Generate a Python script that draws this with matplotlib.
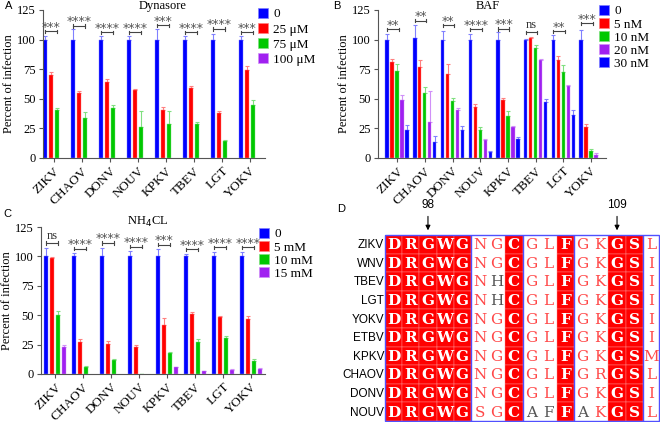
import numpy as np
import matplotlib
matplotlib.use("Agg")
import matplotlib.pyplot as plt
from matplotlib.patches import Patch, Rectangle

plt.rcParams['font.family'] = ['Liberation Serif', 'DejaVu Serif']

viruses = ['ZIKV', 'CHAOV', 'DONV', 'NOUV', 'KPKV', 'TBEV', 'LGT', 'YOKV']
nan = np.nan

# Panel A: Dynasore (mean, upper error end)
dyn_labels = ['0', '25 μM', '75 μM', '100 μM']
dyn_mean = [
    [100, 100, 100, 100, 100, 100, 100, 100],
    [70, 54.5, 64.3, 57.3, 40.3, 59, 38, 74.7],
    [40.3, 33.5, 42.5, 26, 29, 29, 14, 44.8],
    [nan] * 8,
]
dyn_top = [
    [103, 109, 103, 103, 109, 103, 105, 103],
    [73, 57, 66.8, 58.6, 43.4, 60.6, 40, 77.5],
    [42.5, 38.6, 44.5, 40, 40, 30.4, 15, 49],
    [nan] * 8,
]
dyn_sig = ['***', '****', '****', '****', '***', '****', '****', '***']
dyn_sig_y = [107, 111.5, 106, 106, 112, 106, 109, 106]

# Panel B: BAF
baf_labels = ['0', '5 nM', '10 nM', '20 nM', '30 nM']
baf_mean = [
    [100, 101.7, 100, 100, 100, 100, 100, 100],
    [81.4, 76.6, 70.7, 43.4, 49, 101.7, 82.8, 26],
    [73.2, 55.2, 48.2, 23.4, 35.8, 93.2, 72.7, 6],
    [49.3, 30.1, 40.3, 15, 26, 82.8, 61.1, 2.5],
    [24, 13.5, 23.7, 4.8, 15.8, 47.3, 36, nan],
]
baf_top = [
    [105, 112, 107, 105, 106, 100.5, 103.5, 108],
    [84, 82.5, 79, 45.6, 50.7, 102, 86, 29],
    [79, 60, 51, 26, 39.7, 95.5, 78.3, 7.3],
    [53, 56.3, 42.5, 15.8, 27.3, 84, 62, 4],
    [27.6, 19, 27.3, 5.6, 17.5, 49.6, 40.3, nan],
]
baf_sig = ['**', '**', '**', '****', '***', 'ns', '**', '***']
baf_sig_y = [108.6, 116, 112, 108.6, 109, 106, 107, 113.7]

# Panel C: NH4CL
nh4_labels = ['0', '5 mM', '10 mM', '15 mM']
nh4_mean = [
    [100, 100, 100, 100, 100, 100, 100, 100],
    [98.3, 26.8, 25.7, 23.2, 41.8, 51.1, 48.3, 46.6],
    [50.3, 5.6, 11.9, 0.3, 18, 27.4, 30.5, 10.7],
    [22.6, nan, nan, nan, 5.6, 2.3, 3.4, 4.2],
]
nh4_top = [
    [107.3, 102.5, 107.5, 105, 106, 101.7, 103.4, 103.7],
    [99.4, 29.7, 28.2, 24.6, 47.5, 53, 49.2, 49.4],
    [53.7, 6.8, 12.7, nan, 19, 29.4, 32.5, 12.4],
    [24.9, nan, nan, nan, 6, 2.8, 4, 4.8],
]
nh4_sig = ['ns', '****', '****', '****', '***', '****', '****', '****']
nh4_sig_y = [111.4, 106.6, 111.4, 108.3, 110, 106, 107.7, 107.7]

# Panel D: alignment
aln_names = ['ZIKV', 'WNV', 'TBEV', 'LGT', 'YOKV', 'ETBV', 'KPKV', 'CHAOV', 'DONV', 'NOUV']
aln_seqs = ['DRGWGNGCGLFGKGSL', 'DRGWGNGCGLFGKGSI', 'DRGWGNHCGLFGKGSI',
            'DRGWGNHCGLFGKGSI', 'DRGWGNGCGLFGKGSI', 'DRGWGNGCGLFGKGSI',
            'DRGWGNGCGLFGKGSM', 'DRGWGNGCGLFGRGSL', 'DRGWGNGCGLFGKGSI',
            'DRGWGSGCAFFAKGSL']
conserved_cols = [0, 1, 2, 3, 4, 7, 10, 13, 14]
gray_cells = [(2, 6), (3, 6), (9, 8), (9, 9), (9, 11)]
block_edges = [5, 8, 11, 15]
start_pos = 96
marked_pos = [98, 109]

bar_colors = ['#0000ff', '#ff0000', '#00c800', '#a020f0', '#0000ff']
err_colors = ['#8080ff', '#ff8080', '#80e080', '#d090f8', '#8080ff']

fig = plt.figure(figsize=(6.6, 4.22), dpi=100)
W, H = 660.0, 422.0


def px_axes(l, t, r, b):
    return fig.add_axes([l / W, 1 - b / H, (r - l) / W, (b - t) / H])


def bar_panel(ax, means, tops, labels, sig, sig_y, pitch, width, xlim,
              title, title_xy, leg_xy, leg_space):
    n = len(means)
    x = np.arange(len(viruses))
    offs = (np.arange(n) - (n - 1) / 2) * pitch
    for i in range(n):
        m = np.array(means[i], dtype=float)
        t = np.array(tops[i], dtype=float)
        ax.bar(x + offs[i], m, width, color=bar_colors[i], edgecolor=err_colors[i],
               linewidth=0.3, zorder=2)
        ok = ~np.isnan(t)
        ax.errorbar(x[ok] + offs[i], m[ok], yerr=[np.zeros(ok.sum()), t[ok] - m[ok]],
                    fmt='none', ecolor=err_colors[i], elinewidth=0.8, capsize=1.3,
                    capthick=0.8, zorder=1)
    for j in range(len(viruses)):
        x0 = x[j] + offs[0]
        x1 = x[j] + offs[2] + (pitch * 0.3 if n == 5 else 0)
        y = sig_y[j]
        ax.plot([x0, x1], [y, y], color='#444444', lw=0.8, clip_on=False)
        ax.plot([x0, x0], [y - 1.5, y + 1.5], color='#444444', lw=0.8, clip_on=False)
        ax.plot([x1, x1], [y - 1.5, y + 1.5], color='#444444', lw=0.8, clip_on=False)
        if sig[j] == 'ns':
            ax.text((x0 + x1) / 2, y + 1.2, sig[j], ha='center', va='bottom',
                    fontsize=9, color='#333333')
        else:
            ax.text((x0 + x1) / 2, y - 2.0, sig[j], ha='center', va='bottom',
                    fontsize=9, color='#555555', family=['DejaVu Sans'])
    ax.set_xlim(*xlim)
    ax.set_ylim(0, 125)
    ax.set_yticks([0, 25, 50, 75, 100, 125])
    ax.set_xticks(x)
    ax.set_xticklabels(viruses, rotation=45, ha='right', rotation_mode='anchor',
                       fontsize=9.5)
    ax.tick_params(axis='y', labelsize=9, length=3, width=0.8, color='#555555', pad=2)
    ax.tick_params(axis='x', length=3, width=0.8, color='#555555', pad=2)
    for s in ['top', 'right']:
        ax.spines[s].set_visible(False)
    for s in ['left', 'bottom']:
        ax.spines[s].set_color('#555555')
        ax.spines[s].set_linewidth(0.8)
    ax.set_ylabel('Percent of infection', fontsize=9, labelpad=2)
    fig.text(title_xy[0] / W, 1 - title_xy[1] / H, title, ha='center', va='center',
             fontsize=9)
    handles = [Patch(facecolor=bar_colors[i], edgecolor=err_colors[i], linewidth=0.5)
               for i in range(n)]
    ax.legend(handles, labels, loc='upper left',
              bbox_to_anchor=(leg_xy[0] / W, 1 - leg_xy[1] / H),
              bbox_transform=fig.transFigure, frameon=False, fontsize=9.5,
              handlelength=0.75, handleheight=0.75, handletextpad=0.4,
              labelspacing=leg_space, borderpad=0, borderaxespad=0)


axA = px_axes(43, 10, 265, 158)
bar_panel(axA, dyn_mean, dyn_top, dyn_labels, dyn_sig, dyn_sig_y, 0.21, 0.15,
          (-0.39, 7.54), 'Dynasore', (163, 6), (258, 8), 0.2)

axB = px_axes(378, 10, 606, 158)
bar_panel(axB, baf_mean, baf_top, baf_labels, baf_sig, baf_sig_y, 0.18, 0.12,
          (-0.69, 7.54), 'BAF', (488, 6), (599, 5), 0.05)

axC = px_axes(41, 227, 265, 374)
bar_panel(axC, nh4_mean, nh4_top, nh4_labels, nh4_sig, nh4_sig_y, 0.21, 0.15,
          (-0.5, 7.5), 'NH$_4$CL', (148, 222), (259, 228), 0.05)

# panel letters
for letter, (lx, ly) in zip('ABCD', [(5, 6), (333, 6), (3, 214), (337, 209)]):
    fig.text(lx / W, 1 - ly / H, letter, ha='left', va='center', fontsize=8,
             family=['Liberation Sans'])

# Panel D
axD = px_axes(385, 235, 660, 421)
ncol = len(aln_seqs[0])
nrow = len(aln_seqs)
axD.set_xlim(0, ncol)
axD.set_ylim(nrow, 0)
axD.axis('off')
for r, seq in enumerate(aln_seqs):
    for c, ch in enumerate(seq):
        if c in conserved_cols:
            axD.add_patch(Rectangle((c, r), 1, 1, facecolor='#ff0000',
                                    edgecolor='#ff9090', linewidth=0.3))
            axD.text(c + 0.5, r + 0.55, ch, ha='center', va='center', color='white',
                     fontsize=11, fontweight='bold', family=['DejaVu Serif'])
        else:
            col = '#555555' if (r, c) in gray_cells else '#ff4848'
            axD.text(c + 0.5, r + 0.55, ch, ha='center', va='center', color=col,
                     fontsize=11, family=['DejaVu Serif'])
    axD.text(-0.05, r + 0.55, aln_names[r], ha='right', va='center', fontsize=8.5,
             family=['Liberation Sans'], clip_on=False)
axD.add_patch(Rectangle((0, 0), ncol - 0.03, nrow, facecolor='none', edgecolor='#5050ff',
                        linewidth=1.0, clip_on=False))
for e in block_edges:
    axD.plot([e, e], [0, nrow], color='#5050ff', lw=1.0)
for p in marked_pos:
    c = p - start_pos + 0.5
    axD.annotate('', xy=(c, -0.1), xytext=(c, -1.15),
                 arrowprops=dict(arrowstyle='-|>', color='black', lw=0.8,
                                 mutation_scale=7), annotation_clip=False)
    axD.text(c, -1.3, str(p), ha='center', va='bottom', fontsize=8.5,
             family=['Liberation Sans'], clip_on=False)

fig.savefig('out.png', dpi=100)
